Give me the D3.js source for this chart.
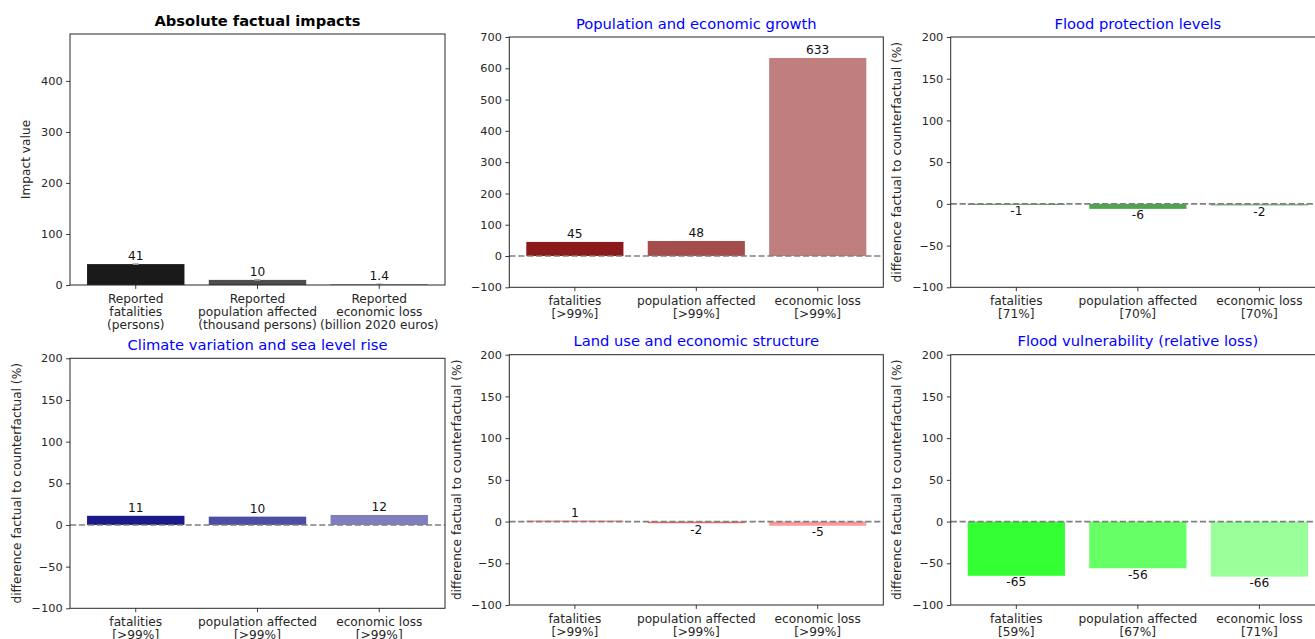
<!DOCTYPE html>
<html>
<head>
<meta charset="utf-8">
<script src="https://cdn.jsdelivr.net/npm/d3@7"></script>
<style>
  html, body { margin: 0; padding: 0; background: #fff; overflow: hidden; }
  svg { display: block; font-family: "DejaVu Sans", sans-serif; }
</style>
</head>
<body>
<svg id="chart" width="1315" height="639"></svg>
<script>
// ---- data ----
const categories = ["fatalities", "population affected", "economic loss"];
const absoluteLabels = [
  ["Reported", "fatalities", "(persons)"],
  ["Reported", "population affected", "(thousand persons)"],
  ["Reported", "economic loss", "(billion 2020 euros)"]
];
const absoluteValues = [41, 10, 1.4];
const growthValues = [45, 48, 633];
const growthCertainty = [">99%", ">99%", ">99%"];
const protectionValues = [-1, -6, -2];
const protectionCertainty = ["71%", "70%", "70%"];
const climateValues = [11, 10, 12];
const climateCertainty = [">99%", ">99%", ">99%"];
const landUseValues = [1, -2, -5];
const landUseCertainty = [">99%", ">99%", ">99%"];
const vulnerabilityValues = [-65, -56, -66];
const vulnerabilityCertainty = ["59%", "67%", "71%"];

const absoluteTicks = [0, 100, 200, 300, 400];
const growthTicks = [-100, 0, 100, 200, 300, 400, 500, 600, 700];
const diffTicks = [-100, -50, 0, 50, 100, 150, 200];

const absoluteColors = ["#1a1a1a", "#4d4d4d", "#7f7f7f"];
const growthColors = ["#8b1a1a", "#a54d4d", "#bf7f7f"];
const protectionColors = ["#1a8b1a", "#4da64d", "#7fbf7f"];
const climateColors = ["#1a1a8b", "#4d4da5", "#7f7fbf"];
const landUseColors = ["#ff3333", "#ff6666", "#ff9999"];
const vulnerabilityColors = ["#33ff33", "#66ff66", "#99ff99"];

const DIFF_LABEL = "difference factual to counterfactual (%)";

// ---- panels ----
const panels = [
  { title: "Absolute factual impacts", bold: true, box: [70, 445, 34, 285], domain: [0, 492],
    values: absoluteValues, colors: absoluteColors, ticks: absoluteTicks,
    xlabels: absoluteLabels, ylabel: "Impact value", ylabelX: 26, zeroLine: false, errMarks: true },
  { title: "Population and economic growth", box: [509.3, 883.3, 37, 287.3], domain: [-100, 700],
    values: growthValues, colors: growthColors, ticks: growthTicks,
    xlabels: categories.map((c, i) => [c, "[" + growthCertainty[i] + "]"]), ylabel: null, zeroLine: true },
  { title: "Flood protection levels", box: [950.7, 1325, 37, 287.3], domain: [-100, 200],
    values: protectionValues, colors: protectionColors, ticks: diffTicks,
    xlabels: categories.map((c, i) => [c, "[" + protectionCertainty[i] + "]"]), ylabel: DIFF_LABEL, ylabelX: 897, zeroLine: true },
  { title: "Climate variation and sea level rise", box: [70, 445, 358.3, 608.3], domain: [-100, 200],
    values: climateValues, colors: climateColors, ticks: diffTicks,
    xlabels: categories.map((c, i) => [c, "[" + climateCertainty[i] + "]"]), ylabel: DIFF_LABEL, ylabelX: 17, zeroLine: true },
  { title: "Land use and economic structure", box: [509.3, 883.3, 354.7, 605], domain: [-100, 200],
    values: landUseValues, colors: landUseColors, ticks: diffTicks,
    xlabels: categories.map((c, i) => [c, "[" + landUseCertainty[i] + "]"]), ylabel: DIFF_LABEL, ylabelX: 457, zeroLine: true },
  { title: "Flood vulnerability (relative loss)", box: [950.7, 1325, 354.7, 605], domain: [-100, 200],
    values: vulnerabilityValues, colors: vulnerabilityColors, ticks: diffTicks,
    xlabels: categories.map((c, i) => [c, "[" + vulnerabilityCertainty[i] + "]"]), ylabel: DIFF_LABEL, ylabelX: 897, zeroLine: true }
];

const svg = d3.select("#chart");
const TEXT = "#262626";
const TICK_FS = 11.3, XLABEL_FS = 12.2, LABEL_FS = 12.2, TITLE_FS = 14.7;

panels.forEach(p => {
  const [left, right, top, bottom] = p.box;
  const x = d3.scaleLinear().domain([-0.54, 2.54]).range([left, right]);
  const y = d3.scaleLinear().domain(p.domain).range([bottom, top]);
  const g = svg.append("g");
  const barW = x(0.8) - x(0);
  const base = Math.max(p.domain[0], 0);

  // bars
  g.selectAll("rect.bar").data(p.values).join("rect")
    .attr("class", "bar")
    .attr("x", (d, i) => x(i) - barW / 2)
    .attr("width", barW)
    .attr("y", d => y(Math.max(d, base)))
    .attr("height", d => Math.abs(y(d) - y(base)))
    .attr("fill", (d, i) => p.colors[i]);

  // small error marks at the bar tops
  if (p.errMarks) {
    g.selectAll("line.err").data(p.values).join("line")
      .attr("x1", (d, i) => x(i) - 3).attr("x2", (d, i) => x(i) + 3)
      .attr("y1", d => y(d)).attr("y2", d => y(d))
      .attr("stroke", "#a0a0a0").attr("stroke-width", 1.6);
  }

  // zero reference line
  if (p.zeroLine) {
    g.append("line")
      .attr("x1", left).attr("x2", right)
      .attr("y1", y(0)).attr("y2", y(0))
      .attr("stroke", "#808080").attr("stroke-width", 1.67)
      .attr("stroke-dasharray", "6.2,2.7");
  }

  // value labels
  g.selectAll("text.val").data(p.values).join("text")
    .attr("class", "val")
    .attr("x", (d, i) => x(i))
    .attr("y", d => d >= 0 ? y(d) - 4 : y(d) + 10.6)
    .attr("text-anchor", "middle")
    .attr("font-size", LABEL_FS)
    .attr("fill", "#111")
    .text(d => String(d));

  // y axis
  const yAxis = d3.axisLeft(y).tickValues(p.ticks).tickSize(3.9).tickPadding(3.5)
    .tickFormat(d3.format("d"));
  const ya = g.append("g").attr("transform", `translate(${left},0)`).call(yAxis);
  ya.select(".domain").remove();
  ya.selectAll("line").attr("stroke", TEXT).attr("stroke-width", 0.9);
  ya.selectAll("text").attr("font-size", TICK_FS).attr("fill", TEXT)
    .attr("font-family", "DejaVu Sans");

  // x axis ticks and multi-line category labels
  const xa = g.append("g").attr("transform", `translate(0,${bottom})`);
  [0, 1, 2].forEach(i => {
    xa.append("line").attr("x1", x(i)).attr("x2", x(i)).attr("y1", 0).attr("y2", 3.9)
      .attr("stroke", TEXT).attr("stroke-width", 0.9);
    const t = xa.append("text").attr("x", x(i)).attr("text-anchor", "middle")
      .attr("font-size", XLABEL_FS).attr("fill", TEXT);
    p.xlabels[i].forEach((line, k) => {
      t.append("tspan").attr("x", x(i)).attr("y", 17.8 + k * 13.2).text(line);
    });
  });

  // frame
  g.append("rect").attr("x", left).attr("y", top)
    .attr("width", right - left).attr("height", bottom - top)
    .attr("fill", "none").attr("stroke", TEXT).attr("stroke-width", 1);

  // title
  g.append("text").attr("x", (left + right) / 2).attr("y", top - (p.bold ? 7.8 : 8.4))
    .attr("text-anchor", "middle").attr("font-size", TITLE_FS)
    .attr("font-weight", p.bold ? "bold" : "normal")
    .attr("fill", p.bold ? "#000" : "#0000ff")
    .text(p.title);

  // y label
  if (p.ylabel) {
    g.append("text")
      .attr("transform", `translate(${p.ylabelX + 4.4},${(top + bottom) / 2}) rotate(-90)`)
      .attr("text-anchor", "middle").attr("font-size", XLABEL_FS).attr("fill", TEXT)
      .text(p.ylabel);
  }
});
</script>
</body>
</html>
